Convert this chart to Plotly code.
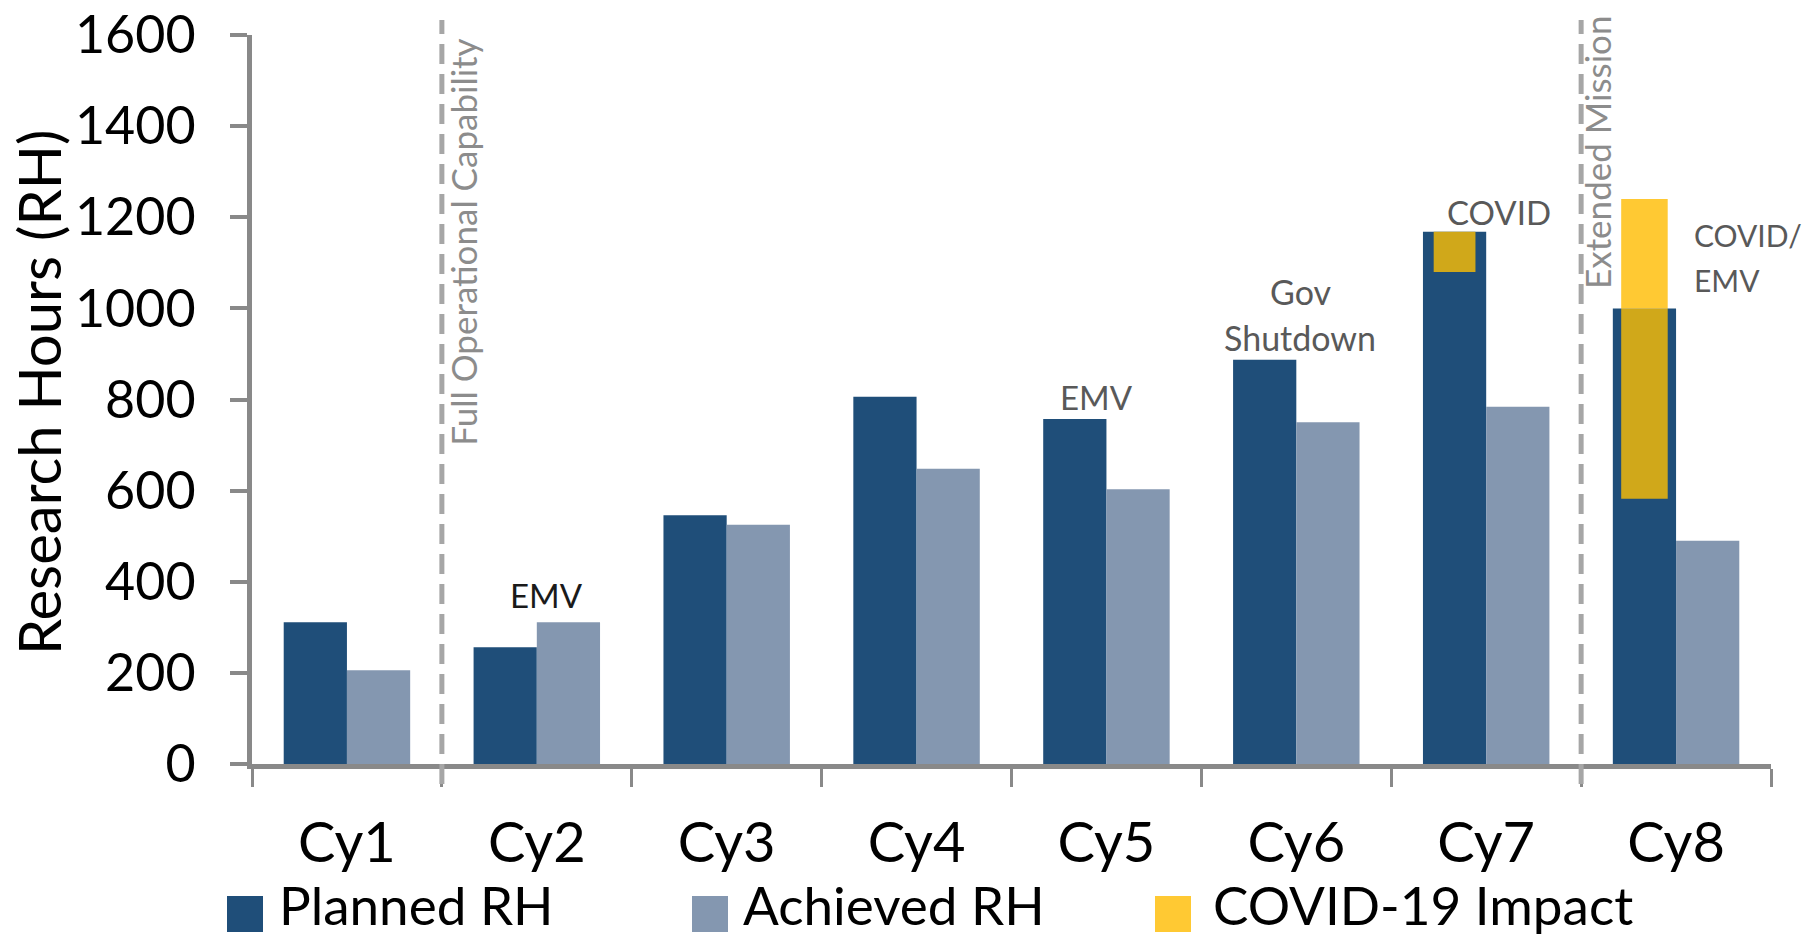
import plotly.graph_objects as go

# ---- data ----
cycles = ["Cy1", "Cy2", "Cy3", "Cy4", "Cy5", "Cy6", "Cy7", "Cy8"]
planned_rh = [311, 256, 546, 806, 757, 887, 1168, 1000]
achieved_rh = [206, 311, 525, 648, 603, 750, 784, 490]
# COVID-19 impact ranges (low / high), only for the affected cycles
covid_cycles = ["Cy7", "Cy8"]
covid_low = [1080, 582]
covid_high = [1168, 1240]
covid_width = [0.22, 0.245]
y_ticks = [0, 200, 400, 600, 800, 1000, 1200, 1400, 1600]

# ---- styling ----
FONT = "Lato"
C_PLANNED = "#1F4E79"
C_ACHIEVED = "#8497B0"
C_COVID = "#FFC933"
C_COVID_OVER = "#D0A81A"
C_AXIS = "#898989"
C_NOTE = "#595959"
C_DASH = "#A6A6A6"

W, H = 1808, 937
ML, MR, MT, MB = 252, 37, 35, 173
PW, PH = W - ML - MR, H - MT - MB
BAR_W = 0.333


def px_x(x):
    return (x - ML) / PW


def px_y(y):
    return (H - MB - y) / PH


fig = go.Figure()

fig.add_trace(go.Bar(
    x=cycles, y=planned_rh, name="Planned RH",
    marker=dict(color=C_PLANNED, line=dict(width=0)),
    offset=-BAR_W, width=BAR_W, showlegend=False,
))
fig.add_trace(go.Bar(
    x=cycles, y=achieved_rh, name="Achieved RH",
    marker=dict(color=C_ACHIEVED, line=dict(width=0)),
    offset=0, width=BAR_W, showlegend=False,
))

# COVID impact: part overlapping the planned bar, and part rising above it
planned_of = dict(zip(cycles, planned_rh))
over_base, over_len, top_base, top_len = [], [], [], []
for c, lo, hi in zip(covid_cycles, covid_low, covid_high):
    p = planned_of[c]
    inner_top = min(hi, p)
    over_base.append(lo)
    over_len.append(inner_top - lo)
    top_base.append(p)
    top_len.append(max(hi - p, 0))
offsets = [-BAR_W / 2 - w / 2 for w in covid_width]

fig.add_trace(go.Bar(
    x=covid_cycles, y=over_len, base=over_base, name="COVID-19 Impact",
    marker=dict(color=C_COVID_OVER, line=dict(width=0)),
    offset=offsets, width=covid_width, showlegend=False,
))
fig.add_trace(go.Bar(
    x=covid_cycles, y=top_len, base=top_base, name="COVID-19 Impact",
    marker=dict(color=C_COVID, line=dict(width=0)),
    offset=offsets, width=covid_width, showlegend=False,
))

# milestone separators between cycles
for xpos in (0.5, 6.5):
    fig.add_shape(type="line", xref="x", yref="paper",
                  x0=xpos, x1=xpos, y0=px_y(784), y1=px_y(20),
                  line=dict(color=C_DASH, width=5, dash="20px,10px"))

annotations = [
    dict(x=0.611, y=1146, text="Full Operational Capability", textangle=-90,
         font=dict(size=35, color="#8C8C8C")),
    dict(x=6.583, y=1343, text="Extended Mission", textangle=-90,
         font=dict(size=35, color="#8C8C8C")),
    dict(x=1.05, y=371, text="EMV", font=dict(size=33, color="#1A1A1A")),
    dict(x=3.95, y=806, text="EMV", font=dict(size=33, color=C_NOTE)),
    dict(x=5.02, y=1036, text="Gov", font=dict(size=34, color=C_NOTE)),
    dict(x=5.02, y=935, text="Shutdown", font=dict(size=34, color=C_NOTE)),
    dict(x=6.07, y=1212, text="COVID", font=dict(size=33, color=C_NOTE)),
    dict(x=7.085, y=1161, text="COVID/", xanchor="left", font=dict(size=30, color=C_NOTE)),
    dict(x=7.085, y=1062, text="EMV", xanchor="left", font=dict(size=30, color=C_NOTE)),
]
for a in annotations:
    a.setdefault("xanchor", "center")
    fig.add_annotation(xref="x", yref="y", showarrow=False, yanchor="middle",
                       font_family=FONT, **a)

# y-axis title
fig.add_annotation(xref="paper", yref="paper", x=px_x(38), y=px_y(392),
                   text="Research Hours (RH)", textangle=-90, showarrow=False,
                   xanchor="center", yanchor="middle",
                   font=dict(family=FONT, size=58, color="#000000"))

# legend drawn as swatches + labels along the bottom
legend_items = [
    ("Planned RH", C_PLANNED, 227, 277),
    ("Achieved RH", C_ACHIEVED, 692, 741),
    ("COVID-19 Impact", C_COVID, 1155, 1211),
]
for label, color, sx, tx in legend_items:
    fig.add_shape(type="rect", xref="paper", yref="paper",
                  x0=px_x(sx), x1=px_x(sx + 36), y0=px_y(932), y1=px_y(896),
                  fillcolor=color, line=dict(width=0))
    fig.add_annotation(xref="paper", yref="paper", x=px_x(tx), y=px_y(904),
                       text=label, showarrow=False, xanchor="left", yanchor="middle",
                       font=dict(family=FONT, size=53, color="#000000"))

fig.update_layout(
    width=W, height=H,
    margin=dict(l=ML, r=MR, t=MT, b=MB, pad=0, autoexpand=False),
    paper_bgcolor="white", plot_bgcolor="white",
    barmode="overlay",
    font=dict(family=FONT, color="#000000"),
    showlegend=False,
    xaxis=dict(
        type="category", categoryorder="array", categoryarray=cycles,
        range=[-0.5, 7.5], automargin=False,
        showline=True, linecolor=C_AXIS, linewidth=5,
        ticks="outside", tickson="boundaries", ticklen=18, tickwidth=3, tickcolor=C_AXIS,
        tickfont=dict(family=FONT, size=56, color="#000000"),
        ticklabelstandoff=26,
        showgrid=False, zeroline=False,
    ),
    yaxis=dict(
        range=[0, 1600], tickvals=y_ticks, automargin=False,
        showline=True, linecolor=C_AXIS, linewidth=5,
        ticks="outside", ticklen=17, tickwidth=4, tickcolor=C_AXIS,
        tickfont=dict(family=FONT, size=52, color="#000000"),
        ticklabelstandoff=24,
        showgrid=False, zeroline=False,
    ),
)

fig.write_html("out.html")
